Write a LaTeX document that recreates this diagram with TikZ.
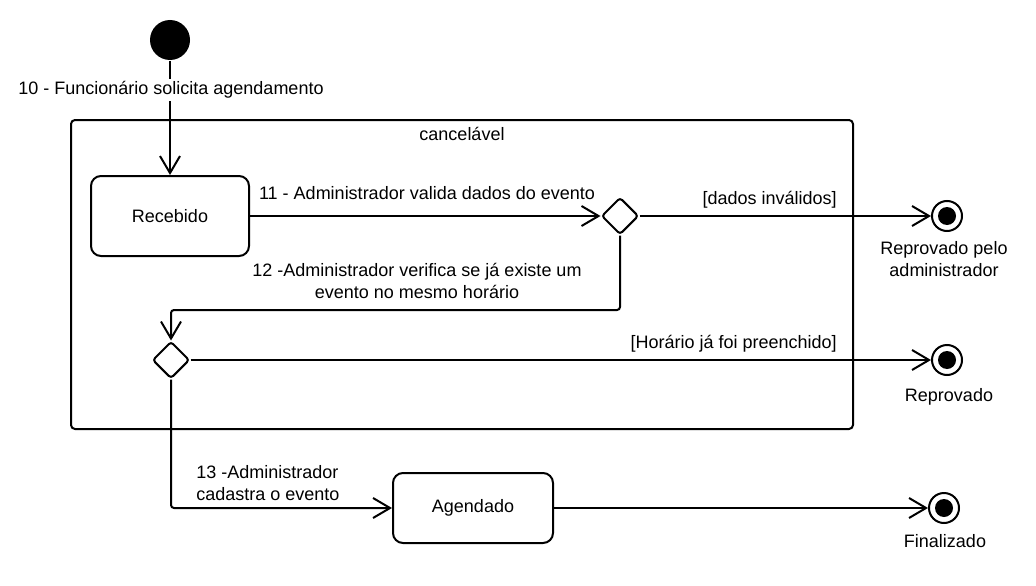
\documentclass[tikz,border=0pt]{standalone}
\usepackage{fontspec}
\setmainfont{Liberation Sans}
\usetikzlibrary{arrows.meta,shapes.geometric}

\begin{document}
\begin{tikzpicture}[x=1pt, y=-1pt, line width=2pt, >={Straight Barb[length=17pt,width=20pt]},
  every node/.style={font=\fontsize{18}{22}\selectfont},
  estado/.style={draw, rounded corners=10pt, minimum width=158pt, minimum height=80pt},
  escolha/.style={diamond, draw, aspect=1, minimum size=37pt, inner sep=0pt, rounded corners=3pt},
  inicio/.style={circle, fill=black, minimum size=40pt, inner sep=0pt},
  fim/.style={circle, draw, fill=white, minimum size=30pt, inner sep=0pt,
    path picture={\fill[black] (path picture bounding box.center) circle (9pt);}}]
\useasboundingbox (0,0) rectangle (1036,586);
% regiao cancelavel
\node [draw, rounded corners=4pt, minimum width=782pt, minimum height=309pt, name=regiao] at (462,274.5) {};
\node [below=4pt] (cancelavel) at (regiao.north) {cancelável};
% estados
\node [inicio, name=inicio] at (170,40) {};
\node [estado, name=recebido] at (170,216) {Recebido};
\node [estado, minimum width=160pt, minimum height=70pt, name=agendado] at (473,508) {Agendado};
\node [escolha, name=escolha1] at (620,216) {};
\node [escolha, name=escolha2] at (171,360) {};
\node [fim, name=fim1] at (947,216) {};
\node [fim, name=fim2] at (947,360) {};
\node [fim, name=fim3] at (944,508) {};
\coordinate (volta) at (171,310);
% transicoes
\draw [->](inicio) -- (recebido);
\node [fill=white, inner sep=3pt] (rotulo10) at (171,90) {10 - Funcionário solicita agendamento};
\draw [->](recebido) -- (escolha1);
\draw [->](escolha1) -- (fim1);
\draw [->, rounded corners=3pt](escolha1.south) |- (volta) -- (escolha2.north);
\draw [->](escolha2) -- (fim2);
\draw [->, rounded corners=3pt](escolha2.south) |- (agendado.west);
\draw [->](agendado) -- (fim3);
% rotulos
\node (rotulo11) at (427,193) {11 - Administrador valida dados do evento};
\node [align=center] (rotulo12) at (417,281) {12 -Administrador verifica se já existe um\\evento no mesmo horário};
\node [align=left, anchor=west] (rotulo13) at (192,483) {13 -Administrador\\cadastra o evento};
\node [anchor=east] (invalidos) at (841,200) {[dados inválidos]};
\node [anchor=east] (preenchido) at (841,344) {[Horário já foi preenchido]};
\node [align=center] (reprovado1) at (944,259) {Reprovado pelo\\administrador};
\node (reprovado2) at (949,397) {Reprovado};
\node (finalizado) at (945,541) {Finalizado};
\end{tikzpicture}
\end{document}
